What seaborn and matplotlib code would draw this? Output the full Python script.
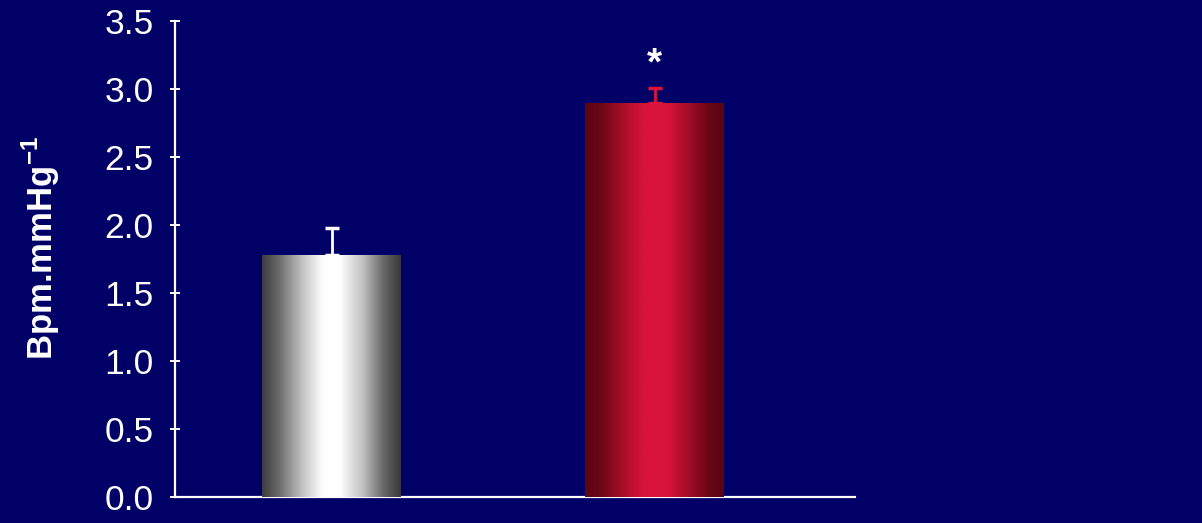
import numpy as np
import pandas as pd
import matplotlib
matplotlib.use("Agg")
import matplotlib.pyplot as plt
import seaborn as sns
from matplotlib.colors import LinearSegmentedColormap

# ---- data ----
groups = ["Control", "Treatment"]
values = [1.78, 2.90]
errors = [0.20, 0.11]
marks = ["", "*"]
yticks = [0.0, 0.5, 1.0, 1.5, 2.0, 2.5, 3.0, 3.5]

bg = "#000066"
sns.set_theme(style="white")
plt.rcParams["font.family"] = ["Liberation Sans", "DejaVu Sans"]
plt.rcParams["mathtext.fontset"] = "custom"
plt.rcParams["mathtext.rm"] = "Liberation Sans"
plt.rcParams["mathtext.bf"] = "Liberation Sans:bold"

fig = plt.figure(figsize=(12.02, 5.23), dpi=100, facecolor=bg)
ax = fig.add_axes([0.1456, 0.0497, 0.5657, 0.910])
ax.set_facecolor(bg)

df = pd.DataFrame({"group": groups, "value": values})
sns.barplot(data=df, x="group", y="value", hue="group", legend=False,
            palette=["#ffffff", "#dc143c"], width=0.43, errorbar=None,
            saturation=1, ax=ax, zorder=2, linewidth=0)

cmaps = [
    LinearSegmentedColormap.from_list("w", [(0, "#3e3e3e"), (0.12, "#6a6a6a"),
                                            (0.3, "#c8c8c8"), (0.44, "#ffffff"),
                                            (0.56, "#ffffff"), (0.72, "#c4c4c4"),
                                            (0.88, "#666666"), (1, "#383838")]),
    LinearSegmentedColormap.from_list("r", [(0, "#5e0414"), (0.11, "#6a0616"),
                                            (0.25, "#a00e26"), (0.42, "#d8133a"),
                                            (0.6, "#d8133a"), (0.75, "#a00e26"),
                                            (0.89, "#6a0616"), (1, "#5a0412")]),
]
cap_colors = ["#ffffff", "#dc143c"]
grad = np.linspace(0, 1, 256).reshape(1, -1)
for patch, cm in zip(ax.patches, cmaps):
    x0, y0 = patch.get_x(), patch.get_y()
    w, h = patch.get_width(), patch.get_height()
    im = ax.imshow(grad, cmap=cm, extent=[x0, x0 + w, y0, y0 + h],
                   aspect="auto", zorder=3, interpolation="bicubic")
    im.set_clip_path(patch)

for i, (v, e, c, m) in enumerate(zip(values, errors, cap_colors, marks)):
    ax.errorbar(i, v, yerr=[[0], [e]], color=c, capsize=4.7, elinewidth=2,
                capthick=2.5, zorder=1, fmt="none")
    if m:
        ax.text(i, v + e + 0.17, m, ha="center", va="center", fontsize=28,
                color="white", fontweight="bold")

ax.set_xlim(-0.485, 1.62)
ax.set_ylim(0, 3.5)
ax.set_yticks(yticks)
ax.set_yticklabels([f"{t:.1f}" for t in yticks])
ax.set_xticks([])
ax.set_xlabel("")
ax.set_ylabel(r"Bpm.mmHg$^{\mathbf{-1}}$", fontsize=25, fontweight="bold",
              color="white")
ax.yaxis.set_label_coords(-0.166, 0.524)

for s in ["top", "right"]:
    ax.spines[s].set_visible(False)
for s in ["left", "bottom"]:
    ax.spines[s].set_color("white")
    ax.spines[s].set_linewidth(1.6)
ax.tick_params(axis="y", left=True, direction="inout", length=7, width=1.4,
               colors="white", labelsize=25.5, pad=12)

fig.savefig("out.png", dpi=100, facecolor=bg)
